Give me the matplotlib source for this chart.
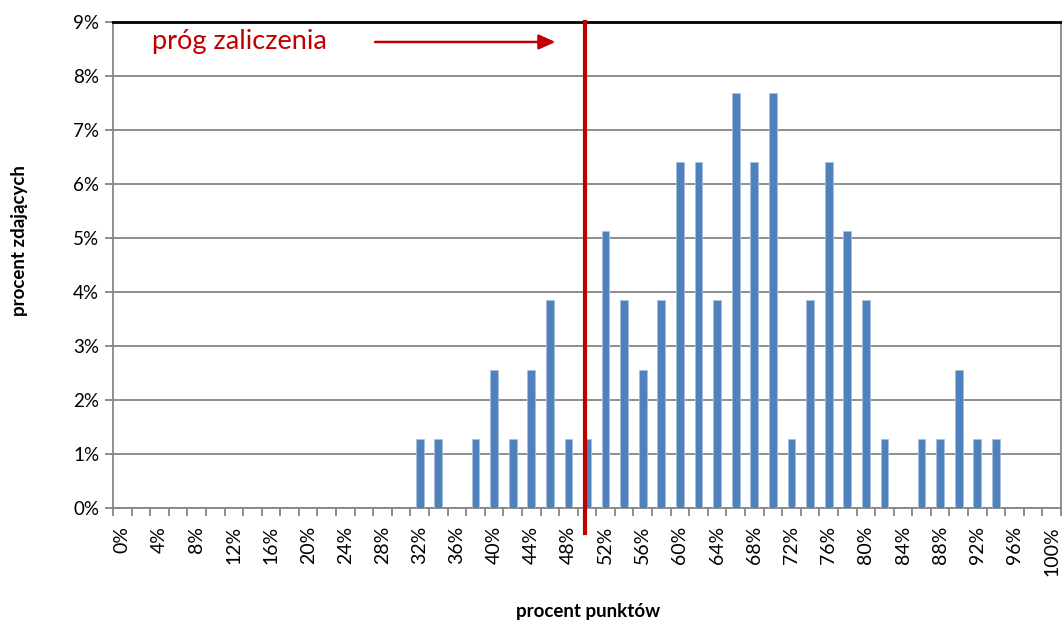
import numpy as np
import matplotlib.pyplot as plt

plt.rcParams['font.family'] = ['Lato', 'DejaVu Sans']

# kategorie: procent punktow 0%..100% co 2%
categories = [f"{p}%" for p in range(0, 101, 2)]
# procent zdajacych w kazdej kategorii
values = [0, 0, 0, 0, 0, 0, 0, 0, 0, 0,
          0, 0, 0, 0, 0, 0, 1.28, 1.28, 0, 1.28,
          2.56, 1.28, 2.56, 3.85, 1.28, 1.28, 5.13, 3.85, 2.56, 3.85,
          6.41, 6.41, 3.85, 7.69, 6.41, 7.69, 1.28, 3.85, 6.41, 5.13,
          3.85, 1.28, 0, 1.28, 1.28, 2.56, 1.28, 1.28, 0, 0,
          0]
threshold_label = "50%"
yticks = [0, 1, 2, 3, 4, 5, 6, 7, 8, 9]

x = np.arange(len(categories))
grid_c = '#868686'

fig = plt.figure(figsize=(10.62, 6.21), dpi=100)
ax = fig.add_axes([113 / 1062, 113 / 621, 948 / 1062, 486 / 621])

ax.bar(x, values, width=0.42, color='#4F81BD', edgecolor='#A7C0DE', linewidth=0.6, zorder=3)

ax.set_xlim(-0.5, len(categories) - 0.5)
ax.set_ylim(0, 9)
ax.set_yticks(yticks)
ax.set_yticklabels([f"{v}%" for v in yticks], fontsize=13.5)
ax.yaxis.grid(True, color=grid_c, linewidth=1.3, zorder=0)

ax.set_xticks(x[::2])
ax.set_xticklabels(categories[::2], rotation=90, fontsize=14)
ax.tick_params(axis='x', length=0, pad=13)
ax.set_xticks(np.arange(-0.5, len(categories), 1), minor=True)
ax.tick_params(axis='x', which='minor', length=6, color=grid_c, width=1.3)
ax.tick_params(axis='y', length=6, color=grid_c, width=1.3, pad=4)

for s in ['left', 'bottom', 'right']:
    ax.spines[s].set_color(grid_c)
    ax.spines[s].set_linewidth(1.3)
ax.spines['top'].set_color('black')
ax.spines['top'].set_linewidth(2)

fig.text(588 / 1062, 1 - 612 / 621, "procent punktów", fontsize=13.5, fontweight='bold',
         ha='center', va='center')
fig.text(20 / 1062, 1 - 241 / 621, "procent zdających", fontsize=13.5, fontweight='bold',
         ha='center', va='center', rotation=90)

# prog zaliczenia
tx = categories.index(threshold_label) - 0.1
ax.plot([tx, tx], [9, -0.46], color='#C00000', linewidth=3, clip_on=False, zorder=5)
ax.annotate("", xy=(23.3, 8.63), xytext=(13.6, 8.63),
            arrowprops=dict(arrowstyle='-|>,head_length=1.0,head_width=0.45',
                            color='#C00000', linewidth=1.8, shrinkA=0, shrinkB=0))
ax.text(1.6, 8.63, "próg zaliczenia", color='#C00000', fontsize=19.5, va='center', ha='left')

fig.savefig("out.png", dpi=100)
